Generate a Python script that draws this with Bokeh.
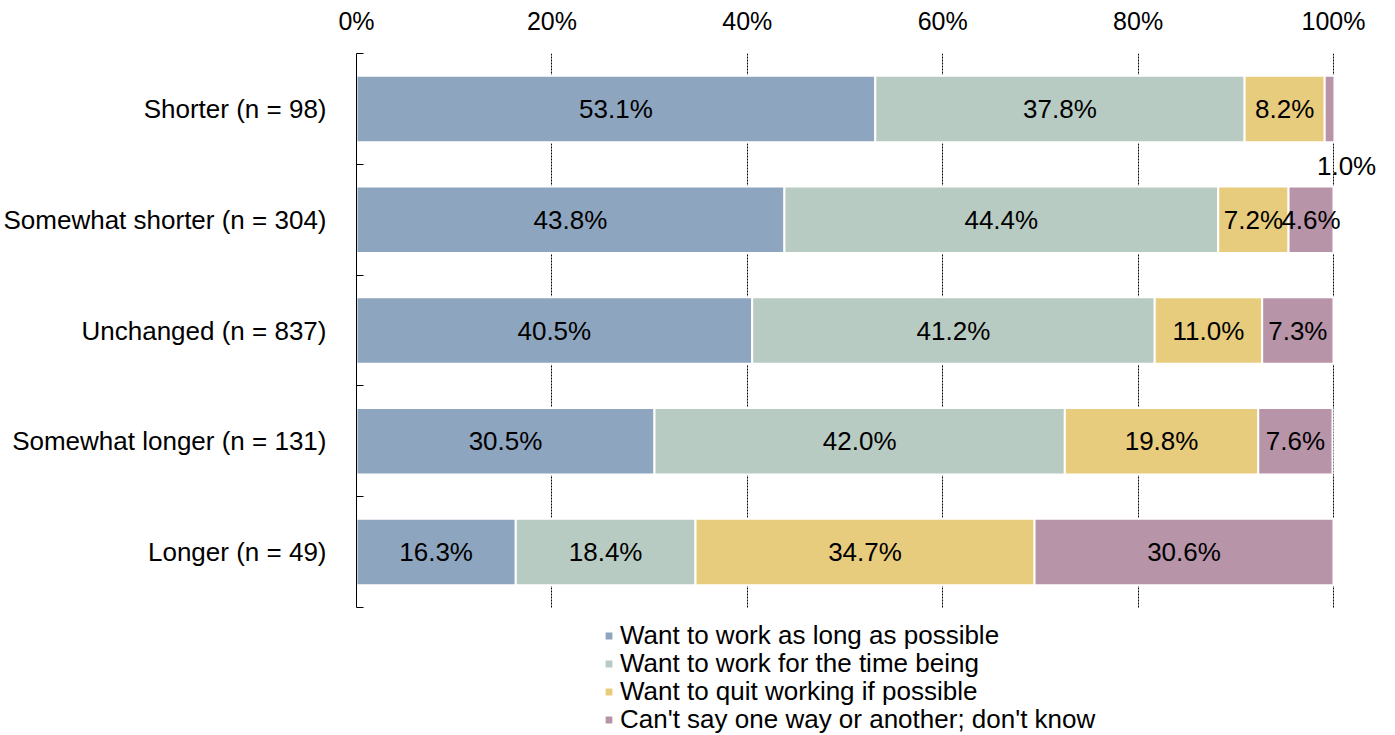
from bokeh.plotting import figure
from bokeh.models import ColumnDataSource, FixedTicker, Legend, LegendItem, LabelSet
from bokeh.core.properties import value
from bokeh.embed import file_html
from bokeh.resources import INLINE

categories = ["Shorter (n = 98)", "Somewhat shorter (n = 304)", "Unchanged (n = 837)",
              "Somewhat longer (n = 131)", "Longer (n = 49)"]
series_names = ["Want to work as long as possible", "Want to work for the time being",
                "Want to quit working if possible", "Can't say one way or another; don't know"]
as_long = [53.1, 43.8, 40.5, 30.5, 16.3]
time_being = [37.8, 44.4, 41.2, 42.0, 18.4]
quit_work = [8.2, 7.2, 11.0, 19.8, 34.7]
dont_know = [1.0, 4.6, 7.3, 7.6, 30.6]
x_ticks = [0, 20, 40, 60, 80, 100]

colors = ["#8EA5BF", "#B8CBC3", "#E8CC7E", "#B894A8"]
FONT = "Liberation Sans"
FS = "26px"

n = len(categories)
ypos = [n - 0.5 - i for i in range(n)]
keys = ["s0", "s1", "s2", "s3"]
series = [as_long, time_being, quit_work, dont_know]
src = ColumnDataSource(dict(y=ypos, **{k: v for k, v in zip(keys, series)}))

# layout in pixels
TOP = 53            # frame top
AXIS_W = 977        # pixels for 0..100 %
BAND = 110.8        # pixels per category band
FRAME_W = 1395 - 356
FRAME_H = 735 - TOP
y_start = -(FRAME_H - n * BAND) / BAND

p = figure(frame_width=FRAME_W, frame_height=FRAME_H,
           x_range=(0, 100 * FRAME_W / AXIS_W), y_range=(y_start, n),
           output_backend="svg", toolbar_location=None, x_axis_location="above",
           min_border_left=356, min_border_right=0, min_border_top=TOP, min_border_bottom=0)
p.outline_line_color = None
p.background_fill_color = "white"

renderers = p.hbar_stack(keys, y="y", height=0.6, color=colors, source=src,
                         line_color="white", line_width=2)

# labels
lx, ly, lt, xoff, yoff = [], [], [], [], []
for i in range(n):
    left = 0.0
    for s in series:
        v = s[i]
        lx.append(left + v / 2)
        ly.append(ypos[i])
        lt.append(f"{v:.1f}%")
        small = v < 2
        xoff.append(17 if small else 0)
        yoff.append(-57 if small else 0)
        left += v
lsrc = ColumnDataSource(dict(x=lx, y=ly, t=lt, xo=xoff, yo=yoff))
labels = LabelSet(x="x", y="y", text="t", x_offset="xo", y_offset="yo", source=lsrc,
                  text_align="center", text_baseline="middle", text_font=value(FONT),
                  text_font_size=value(FS), text_color="black")
p.add_layout(labels)

# x axis (top)
xa = p.xaxis[0]
xa.ticker = FixedTicker(ticks=x_ticks)
xa.major_label_overrides = {t: f"{t}%" for t in x_ticks}
xa.axis_line_color = None
xa.major_tick_line_color = None
xa.minor_tick_line_color = None
xa.major_label_standoff = 13
xa.major_label_text_font = FONT
xa.major_label_text_font_size = "25px"
xa.major_label_text_color = "black"

# y axis
ya = p.yaxis[0]
ya.bounds = (0, n)
ya.ticker = FixedTicker(ticks=ypos, minor_ticks=[float(i) for i in range(n + 1)])
ya.major_label_overrides = {y: c for y, c in zip(ypos, categories)}
ya.major_tick_line_color = None
ya.minor_tick_in = 7
ya.minor_tick_out = 0
ya.minor_tick_line_color = "black"
ya.axis_line_color = "black"
ya.major_label_standoff = 24
ya.major_label_text_font = FONT
ya.major_label_text_font_size = FS
ya.major_label_text_color = "black"

p.ygrid.grid_line_color = None
p.xgrid.grid_line_color = "black"
p.xgrid.grid_line_dash = "2 1"
p.xgrid.grid_line_width = 1
p.xgrid.cross_bounds = (0, n)

# legend: one entry per line, 28 px apart
LINE0 = 635         # centre of first legend line (page px)
for k, (nm, r) in enumerate(zip(series_names, renderers)):
    center = LINE0 + 28 * k
    lg = Legend(items=[LegendItem(label=nm, renderers=[r])],
                location=(603 - 356, 735 - center - 15.5), orientation="vertical",
                label_text_font=FONT, label_text_font_size=FS, label_text_color="black",
                glyph_width=11, glyph_height=11, label_height=28, spacing=0,
                padding=0, margin=0, border_line_color=None, background_fill_alpha=0,
                label_standoff=6)
    p.add_layout(lg, "center")

open("out.html", "w").write(file_html(p, INLINE))
